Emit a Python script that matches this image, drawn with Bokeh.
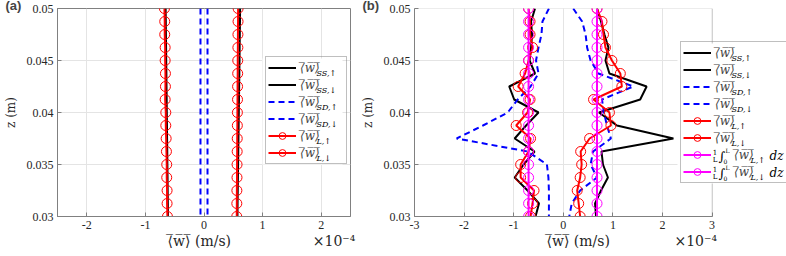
from bokeh.plotting import figure
from bokeh.layouts import row
from bokeh.models import (Range1d, Legend, LegendItem, Label, LinearAxis,
                          FixedTicker, PrintfTickFormatter, BoxAnnotation)
from bokeh.embed import file_html
from bokeh.resources import INLINE

# ---------------- data (velocities in units of 1e-4 m/s) ----------------
z = [0.05, 0.04875, 0.0475, 0.04625, 0.045, 0.04375, 0.0425, 0.04125, 0.04,
     0.03875, 0.0375, 0.03625, 0.035, 0.03375, 0.0325, 0.03125, 0.03]

# panel (a)
a_ss_up = [0.616, 0.614, 0.611, 0.608, 0.606, 0.603, 0.600, 0.597, 0.594,
           0.591, 0.588, 0.585, 0.582, 0.579, 0.576, 0.573, 0.571]
a_ss_dn = [-0.655, -0.652, -0.650, -0.647, -0.645, -0.642, -0.640, -0.637, -0.635,
           -0.632, -0.630, -0.627, -0.625, -0.622, -0.620, -0.617, -0.615]
a_sd_up = [0.06] * 17
a_sd_dn = [-0.06] * 17
a_l_up = [0.582, 0.581, 0.579, 0.578, 0.576, 0.575, 0.573, 0.572, 0.570,
          0.569, 0.567, 0.566, 0.564, 0.563, 0.561, 0.560, 0.559]
a_l_dn = [-0.675, -0.670, -0.670, -0.663, -0.663, -0.658, -0.658, -0.663, -0.652,
          -0.652, -0.646, -0.641, -0.636, -0.636, -0.630, -0.630, -0.624]

# panel (b)
b_ss_up = [0.68, 0.76, 0.83, 0.91, 0.85, 0.93, 1.68, 1.55, 0.72, 1.08, 2.22,
           0.77, 0.80, 0.90, 0.76, 0.64, 0.66]
b_ss_dn = [-0.57, -0.65, -0.63, -0.65, -0.68, -0.57, -1.09, -0.99, -0.50, -0.75,
           -0.98, -0.58, -0.80, -0.98, -0.72, -0.49, -0.56]
b_sd_up = [0.20, 0.38, 0.45, 0.48, 0.55, 0.71, 1.41, 0.78, 0.82, 0.88, 0.96,
           0.60, 0.55, 0.68, 0.34, 0.17, 0.12]
b_sd_dn = [-0.29, -0.42, -0.44, -0.50, -0.55, -0.50, -0.66, -0.92, -1.12, -1.62,
           -2.15, -0.72, -0.33, -0.30, -0.29, -0.29, -0.29]
b_l_up = [0.68, 0.78, 0.81, 0.85, 0.98, 1.15, 1.18, 0.61, 0.93, 0.96, 0.53,
          0.35, 0.37, 0.34, 0.28, 0.31, 0.34]
b_l_dn = [-0.70, -0.67, -0.67, -0.62, -0.70, -0.77, -0.91, -0.67, -0.72, -0.95,
          -0.66, -0.70, -0.86, -0.86, -0.59, -0.62, -0.66]
b_int_up = [0.68] * 17
b_int_dn = [-0.70] * 17

a_xticks = [-2, -1, 0, 1, 2]
b_xticks = [-3, -2, -1, 0, 1, 2, 3]
z_ticks = [0.03, 0.035, 0.04, 0.045, 0.05]

# ---------------- styling ----------------
TIMES = "Liberation Serif"
CM = "DejaVu Serif"
SANS = "Liberation Sans"
OL = "\u0305"
WBAR = "\u27e8" + OL + "w" + OL + "\u27e9" + OL
XLABEL = WBAR + " (m/s)"
EXPO = "\u00d710\u207b\u2074"
NBSP = "\u00a0"
BLACK, BLUE, RED, MAG = "#000000", "#0000ff", "#ff0000", "#ff00ff"
BOX, GRID, TXT = "#808080", "#e4e4e4", "#262626"


def base_fig(width, border_right, xlo, xhi, xticks, xlab_pos, expo_pos, tag):
    p = figure(width=width, height=256, x_range=Range1d(xlo, xhi),
               y_range=Range1d(0.03, 0.05), output_backend="svg",
               toolbar_location=None, min_border_left=54,
               min_border_right=border_right, min_border_top=5,
               min_border_bottom=40)
    xt = FixedTicker(ticks=xticks, minor_ticks=[])
    yt = FixedTicker(ticks=z_ticks, minor_ticks=[])
    p.xaxis.ticker = xt
    p.yaxis.ticker = yt
    p.xgrid.ticker = xt
    p.ygrid.ticker = yt
    p.grid.grid_line_color = GRID
    p.grid.grid_line_width = 1
    for ax in (p.xaxis[0], p.yaxis[0]):
        ax.formatter = PrintfTickFormatter(format="%g")
        ax.major_tick_in = 4
        ax.major_tick_out = 0
        ax.minor_tick_in = 0
        ax.minor_tick_out = 0
        ax.axis_line_color = BOX
        ax.major_tick_line_color = BOX
        ax.major_label_text_font = TIMES
        ax.major_label_text_font_size = "12px"
        ax.major_label_text_color = TXT
    p.xaxis.major_label_standoff = 4
    p.yaxis.major_label_standoff = 4
    p.yaxis.axis_label = "z (m)"
    p.yaxis.axis_label_text_font = CM
    p.yaxis.axis_label_text_font_style = "normal"
    p.yaxis.axis_label_text_font_size = "12px"
    p.yaxis.axis_label_text_color = TXT
    p.yaxis.axis_label_standoff = 6
    # second row under the x axis: axis title and the exponent
    lab_ax = LinearAxis(ticker=FixedTicker(ticks=[xlab_pos, expo_pos], minor_ticks=[]),
                        major_label_overrides={xlab_pos: XLABEL, expo_pos: EXPO},
                        axis_line_color=None, major_tick_line_color=None,
                        minor_tick_line_color=None, major_tick_in=0,
                        major_tick_out=0, minor_tick_in=0, minor_tick_out=0,
                        major_label_standoff=1, major_label_text_font=CM,
                        major_label_text_font_size="14px",
                        major_label_text_color=TXT)
    p.add_layout(lab_ax, "below")
    # panel tag
    p.title.text = tag
    p.title.align = "left"
    p.title.offset = -52
    p.title.standoff = -9
    p.title.text_font = SANS
    p.title.text_font_style = "bold"
    p.title.text_font_size = "13px"
    return p


def legend_bg(p, left, right, top, bottom):
    # white backing for the legend; the legend itself is transparent so that
    # the subscript labels drawn over this backing stay visible
    p.add_layout(BoxAnnotation(left=left, right=right, top=top, bottom=bottom,
                               left_units="canvas", right_units="canvas",
                               top_units="canvas", bottom_units="canvas",
                               fill_color="white", fill_alpha=1,
                               line_color=None))


def txt(p, s, x, y, size, style="normal", font=CM, align="left",
        baseline="middle", color="#000000"):
    # x, y in canvas pixels (origin top-left of this figure)
    p.add_layout(Label(x=x, y=y, x_units="canvas", y_units="canvas",
                       text=s, text_font=font, text_font_size=size,
                       text_font_style=style, text_align=align,
                       text_baseline=baseline, text_color=color,
                       level="overlay"))


def make_legend(p, items, loc, label_width):
    leg = Legend(items=items, location=loc, padding=2, spacing=0, margin=0,
                 glyph_width=28, glyph_height=17, label_height=17,
                 label_width=label_width, label_standoff=4,
                 label_text_font=CM, label_text_font_size="12px",
                 label_text_font_style="italic",
                 border_line_color=BOX, border_line_width=1,
                 background_fill_color="white", background_fill_alpha=0)
    p.add_layout(leg, "center")


DASH = "6 4"
subs = ["SS,\u2191", "SS,\u2193", "SD,\u2191", "SD,\u2193", "L,\u2191", "L,\u2193"]

# ---------------- panel (a) ----------------
pa = base_fig(357, 7, -2.5, 2.5, a_xticks, -0.08, 2.22, "(a)")
pa.outline_line_color = BOX
r1 = pa.line(a_ss_up, z, line_color=BLACK, line_width=2)
r2 = pa.line(a_ss_dn, z, line_color=BLACK, line_width=2)
r3 = pa.line(a_sd_up, z, line_color=BLUE, line_width=2, line_dash=DASH)
r4 = pa.line(a_sd_dn, z, line_color=BLUE, line_width=2, line_dash=DASH)
r5 = pa.line(a_l_up, z, line_color=RED, line_width=2)
r5m = pa.scatter(a_l_up, z, marker="circle", size=10, fill_color=None,
                 line_color=RED, line_width=1)
r6 = pa.line(a_l_dn, z, line_color=RED, line_width=2)
r6m = pa.scatter(a_l_dn, z, marker="circle", size=10, fill_color=None,
                 line_color=RED, line_width=1)
legend_bg(pa, 262, 342, 58, 164)
make_legend(pa, [LegendItem(label=WBAR, renderers=[r1]),
                 LegendItem(label=WBAR, renderers=[r2]),
                 LegendItem(label=WBAR, renderers=[r3]),
                 LegendItem(label=WBAR, renderers=[r4]),
                 LegendItem(label=WBAR, renderers=[r5, r5m]),
                 LegendItem(label=WBAR, renderers=[r6, r6m])], (208, 52), 44)
for k, s in enumerate(subs):
    txt(pa, s, 316, 72.5 + 17 * k, "8px", "italic")

# ---------------- panel (b) ----------------
# frame runs to the page edge so that the legend may sit over the right margin
pb = base_fig(429, 0, -3, 4.5, b_xticks, 0.3, 2.67, "(b)")
pb.outline_line_color = None
pb.xaxis[0].bounds = (-3, 3)
pb.add_layout(BoxAnnotation(left=-3, right=3, bottom=0.03, top=0.05,
                            fill_color=None, line_color=BOX, line_width=1))
s1 = pb.line(b_ss_up, z, line_color=BLACK, line_width=2)
s2 = pb.line(b_ss_dn, z, line_color=BLACK, line_width=2)
s3 = pb.line(b_sd_up, z, line_color=BLUE, line_width=2, line_dash=DASH)
s4 = pb.line(b_sd_dn, z, line_color=BLUE, line_width=2, line_dash=DASH)
s5 = pb.line(b_l_up, z, line_color=RED, line_width=2)
s5m = pb.scatter(b_l_up, z, marker="circle", size=10, fill_color=None,
                 line_color=RED, line_width=1)
s6 = pb.line(b_l_dn, z, line_color=RED, line_width=2)
s6m = pb.scatter(b_l_dn, z, marker="circle", size=10, fill_color=None,
                 line_color=RED, line_width=1)
s7 = pb.line(b_int_up, z, line_color=MAG, line_width=2)
s7m = pb.scatter(b_int_up, z, marker="circle", size=10, fill_color=None,
                 line_color=MAG, line_width=1)
s8 = pb.line(b_int_dn, z, line_color=MAG, line_width=2)
s8m = pb.scatter(b_int_dn, z, marker="circle", size=10, fill_color=None,
                 line_color=MAG, line_width=1)
legend_bg(pb, 320, 440, 43, 183)
WPAD = NBSP * 5 + WBAR
make_legend(pb, [LegendItem(label=WBAR, renderers=[s1]),
                 LegendItem(label=WBAR, renderers=[s2]),
                 LegendItem(label=WBAR, renderers=[s3]),
                 LegendItem(label=WBAR, renderers=[s4]),
                 LegendItem(label=WBAR, renderers=[s5, s5m]),
                 LegendItem(label=WBAR, renderers=[s6, s6m]),
                 LegendItem(label=WPAD, renderers=[s7, s7m]),
                 LegendItem(label=WPAD, renderers=[s8, s8m])], (266, 33), 100)
for k, s in enumerate(subs):
    txt(pb, s, 374, 57.5 + 17 * k, "8px", "italic")
for k, s in enumerate(["L,\u2191", "L,\u2193"]):
    y = 53.5 + 17 * (6 + k)
    txt(pb, "1", 357.5, y - 4, "7px", align="center")
    txt(pb, "L", 357.5, y + 4, "7px", align="center")
    txt(pb, "\u222b", 361, y, "13px")
    txt(pb, "0", 366, y + 5, "6px")
    txt(pb, "L", 368, y - 6, "6px")
    txt(pb, s, 393, y + 4, "8px", "italic")
    txt(pb, "dz", 412, y, "12px", "italic")

layout = row(pa, pb, spacing=0)
open("out.html", "w").write(file_html(layout, INLINE))
